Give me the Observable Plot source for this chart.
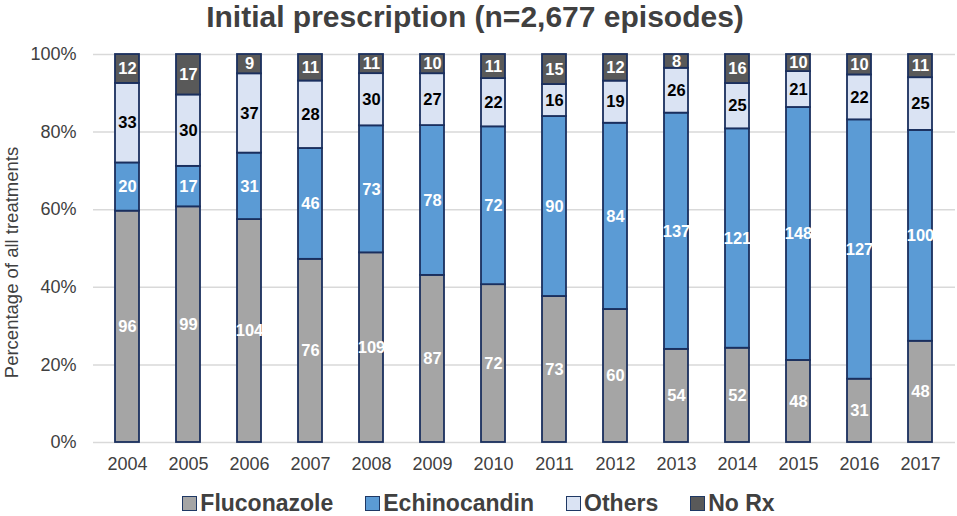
<!DOCTYPE html>
<html>
<head>
<meta charset="utf-8">
<script src="https://cdn.jsdelivr.net/npm/d3@7"></script>
<script src="https://cdn.jsdelivr.net/npm/@observablehq/plot@0.6"></script>
<style>
  body { margin: 0; background: #fff; font-family: "Liberation Sans", Arial, sans-serif; overflow: hidden; }
  #title { width: 957px; text-align: center; font-weight: bold; font-size: 30px; line-height: 34px; height: 34px; color: #404040; padding-right: 7px; box-sizing: border-box; white-space: nowrap; }
  #legend { width: 957px; display: flex; justify-content: center; align-items: center; gap: 32px; font-weight: bold; font-size: 23px; line-height: 22px; height: 22px; color: #404040; }
  #legend .item { display: flex; align-items: center; }
  #legend .sw { width: 15px; height: 15px; box-sizing: border-box; border: 1.5px solid #1f3864; margin-right: 3px; }
  #chart svg { display: block; }
</style>
</head>
<body>
<div id="title">Initial prescription (n=2,677 episodes)</div>
<div id="chart"></div>
<div id="legend"></div>
<script>
const years = ["2004","2005","2006","2007","2008","2009","2010","2011","2012","2013","2014","2015","2016","2017"];
const seriesNames = ["Fluconazole", "Echinocandin", "Others", "No Rx"];
const fluconazole = [96, 99, 104, 76, 109, 87, 72, 73, 60, 54, 52, 48, 31, 48];
const echinocandin = [20, 17, 31, 46, 73, 78, 72, 90, 84, 137, 121, 148, 127, 100];
const others = [33, 30, 37, 28, 30, 27, 22, 16, 19, 26, 25, 21, 22, 25];
const noRx = [12, 17, 9, 11, 11, 10, 11, 15, 12, 8, 16, 10, 10, 11];
const seriesColors = ["#a5a5a5", "#5b9bd5", "#dae3f3", "#595959"];
const yTicks = [0, 0.2, 0.4, 0.6, 0.8, 1.0];
const yLabel = "Percentage of all treatments";

const seriesValues = [fluconazole, echinocandin, others, noRx];
const rows = [];
years.forEach((yr, i) => {
  seriesNames.forEach((s, j) => {
    rows.push({year: yr, series: s, value: seriesValues[j][i]});
  });
});

const stackOpts = (extra) => Plot.stackY({offset: "normalize", order: seriesNames},
  Object.assign({x: "year", y: "value", z: "series"}, extra));

const plot = Plot.plot({
  width: 957,
  height: 458,
  marginTop: 20,
  marginBottom: 50,
  marginLeft: 93,
  marginRight: 2,
  style: {fontFamily: "'Liberation Sans', Arial, sans-serif", fontSize: "18px", color: "#404040", background: "white"},
  x: {domain: years, paddingInner: 0.6, paddingOuter: 0.3, axis: null},
  y: {domain: [0, 1], axis: null},
  color: {domain: seriesNames, range: seriesColors},
  marks: [
    Plot.gridY(yTicks, {stroke: "#d9d9d9", strokeOpacity: 1, strokeWidth: 1.5}),
    Plot.axisY(yTicks, {tickFormat: d3.format(".0%"), tickSize: 0, tickPadding: 17, fontSize: 18, label: null}),
    Plot.axisX(years, {tickSize: 0, tickPadding: 15, fontSize: 18, label: null}),
    Plot.barY(rows, stackOpts({fill: "series", stroke: "#1a2f5e", strokeWidth: 1.8})),
    Plot.text(rows, stackOpts({
      text: d => d.series !== "Others" ? String(d.value) : "",
      fill: "white", fontWeight: "bold", fontSize: 16.5
    })),
    Plot.text(rows, stackOpts({
      text: d => d.series === "Others" ? String(d.value) : "",
      fill: "black", fontWeight: "bold", fontSize: 16.5
    })),
    Plot.text([yLabel], {text: d => d, frameAnchor: "left", textAnchor: "middle", rotate: -90, dx: -81, dy: 14, fontSize: 18.5, fill: "#404040"})
  ]
});
document.getElementById("chart").appendChild(plot);

const legend = document.getElementById("legend");
seriesNames.forEach((s, i) => {
  const item = document.createElement("div");
  item.className = "item";
  const sw = document.createElement("span");
  sw.className = "sw";
  sw.style.background = seriesColors[i];
  const t = document.createElement("span");
  t.textContent = s;
  item.appendChild(sw);
  item.appendChild(t);
  legend.appendChild(item);
});
</script>
</body>
</html>
